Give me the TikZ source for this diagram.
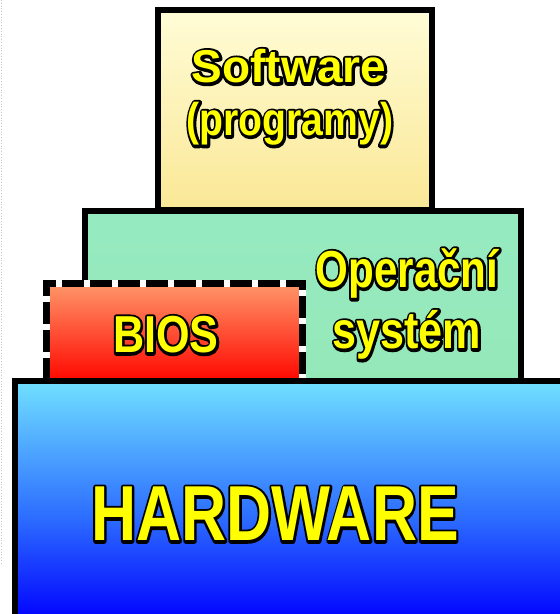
\documentclass[tikz,border=0pt]{standalone}
\usepackage{fontspec}
\usepackage{graphicx}
\setmainfont{Liberation Sans}

\definecolor{txtyellow}{RGB}{255,255,0}
\definecolor{swtop}{RGB}{255,252,214}
\definecolor{swbot}{RGB}{250,232,150}
\definecolor{osfill}{RGB}{148,232,184}
\definecolor{ostop}{RGB}{150,234,192}
\definecolor{biostop}{RGB}{255,150,105}
\definecolor{biosbot}{RGB}{255,8,0}
\definecolor{hwtop}{RGB}{112,224,255}
\definecolor{hwmid}{RGB}{45,110,255}
\definecolor{hwbot}{RGB}{0,0,255}

\pgfdeclareverticalshading{hwshade}{100bp}{%
  color(0bp)=(hwbot); color(25bp)=(hwbot); color(47bp)=(hwmid);
  color(75bp)=(hwtop); color(100bp)=(hwtop)}

% yellow letters over a thick black stroked copy: size, horizontal scale, text
\newcommand{\layertext}[3]{%
  \scalebox{#2}[1]{\fontsize{#1}{#1}\selectfont\bfseries
  \rlap{\special{pdf:code q 0 0 0 RG 1 j 5.5 w 1 Tr}#3\special{pdf:code Q}}%
  \textcolor{txtyellow}{#3}}}

\tikzset{
  layer/.style={line width=6pt, line join=miter},
  label/.style={inner sep=0pt, anchor=base},
}

\begin{document}
\begin{tikzpicture}[x=1pt,y=1pt]
  \useasboundingbox (0,0) rectangle (560,614);
  \clip (0,0) rectangle (560,614);
  \fill[white] (0,0) rectangle (560,614);

  % faint dotted margin line at the left edge
  \draw[gray!45, line width=0.8pt, dotted] (1.5,614) -- (1.5,50);

  % Software layer
  \draw[layer, top color=swtop, bottom color=swbot]
    (158,604) rectangle (432,404);
  % Operating system layer
  \draw[layer, top color=ostop, bottom color=osfill]
    (85,403) rectangle (521,232);
  % BIOS layer, dashed black and white border
  \fill[top color=biostop, bottom color=biosbot]
    (46,330) rectangle (302,234);
  \draw[white, line width=7pt] (46,234) -- (46,330) -- (302,330) -- (302,234);
  \draw[black, line width=7pt, dash pattern=on 22pt off 6pt]
    (46,234) -- (46,330) -- (302,330) -- (302,234);
  % Hardware layer
  \draw[layer, shading=hwshade]
    (15,233) rectangle (575,-8);

  \node[label] (sw1) at (289,531) {\layertext{46}{1.0}{Software}};
  \node[label] (sw2) at (290,478) {\layertext{46}{0.85}{(programy)}};
  \node[label] (os1) at (407,326) {\layertext{52}{0.81}{Operační}};
  \node[label] (os2) at (407,265) {\layertext{52}{0.83}{systém}};
  \node[label] (bios) at (166,261) {\layertext{52}{0.83}{BIOS}};
  \node[label] (hw) at (275,73) {\layertext{78}{0.80}{HARDWARE}};
\end{tikzpicture}
\end{document}
